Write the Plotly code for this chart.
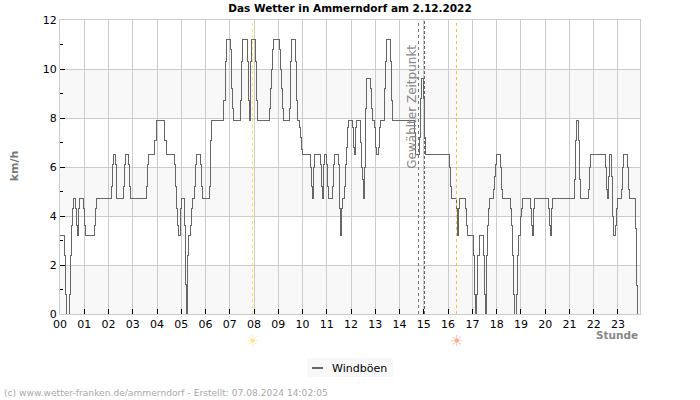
import plotly.graph_objects as go

TITLE = "Das Wetter in Ammerndorf am 2.12.2022"
FOOTER = "(c) www.wetter-franken.de/ammerndorf - Erstellt: 07.08.2024 14:02:05"
HOUR_LABELS = ["%02d" % h for h in range(24)]
HOUR_TICKS = list(range(24))

# step changes (hour reading, gust km/h)
read_hours = [
    0, .17, .21, .26, .38, .43, .48, .53, .57, .66, .70, .74, .77, .78, .82, .99,
    1.03, 1.07, 1.41, 1.46, 1.50, 2.12, 2.16, 2.20, 2.28, 2.32, 2.35, 2.61, 2.66,
    2.70, 2.85, 2.89, 2.93, 3.59, 3.63, 3.68, 3.92, 3.97, 4.01, 4.34, 4.42, 4.75,
    4.79, 4.83, 4.88, 4.92, 5.00, 5.04, 5.17, 5.21, 5.25, 5.27, 5.29, 5.33, 5.41,
    5.46, 5.50, 5.58, 5.62, 5.66, 5.83, 5.87, 5.91, 6.20, 6.24, 6.28, 6.78, 6.83,
    6.88, 7.04, 7.08, 7.14, 7.18, 7.455, 7.50, 7.54, 7.77, 7.81, 7.855, 7.90, 7.94,
    8.10, 8.145, 8.19, 8.68, 8.72, 8.77, 8.81, 8.85, 9.10, 9.14, 9.18, 9.22, 9.26,
    9.51, 9.55, 9.59, 9.76, 9.80, 9.84, 9.92, 9.97, 10.01, 10.05, 10.38, 10.42,
    10.46, 10.49, 10.55, 10.79, 10.84, 10.88, 10.92, 10.96, 11.04, 11.08, 11.12,
    11.29, 11.33, 11.37, 11.54, 11.58, 11.62, 11.66, 11.70, 11.79, 11.83, 11.87,
    11.91, 11.95, 12.12, 12.16, 12.20, 12.24, 12.28, 12.45, 12.49, 12.53, 12.57,
    12.61, 12.66, 12.70, 12.86, 12.90, 12.95, 13.03, 13.07, 13.11, 13.19, 13.24,
    13.28, 13.44, 13.48, 13.52, 13.69, 13.73, 13.77, 14.68, 14.72, 14.89, 14.93,
    14.97, 15.06, 15.10, 15.14, 16.13, 16.17, 16.21, 16.39, 16.43, 16.48, 16.52,
    16.78, 16.83, 16.88, 17.11, 17.17, 17.21, 17.25, 17.29, 17.37, 17.54, 17.58,
    17.62, 17.64, 17.69, 17.73, 17.79, 17.95, 17.99, 18.03, 18.08, 18.24, 18.28,
    18.33, 18.66, 18.70, 18.74, 18.78, 18.82, 18.90, 18.94, 18.99, 19.07, 19.11,
    19.15, 19.48, 19.52, 19.57, 19.59, 19.65, 20.23, 20.27, 20.31, 20.35, 20.39,
    21.30, 21.35, 21.39, 21.47, 21.51, 21.55, 21.88, 21.92, 21.97, 22.59, 22.63,
    22.67, 22.71, 22.75, 22.84, 22.88, 22.92, 23.00, 23.04, 23.08, 23.25, 23.29,
    23.33, 23.50, 23.54, 23.58, 23.83, 23.87, 23.91, 23.98,
]
gusts = [
    3.2, 2.4, .8, 0, .8, 2.4, 3.6, 4.3, 4.7, 4.3, 3.6, 3.2, 3.6, 4.3, 4.7, 4.3,
    3.6, 3.2, 3.6, 4.3, 4.7, 5.2, 6.1, 6.5, 6.1, 5.2, 4.7, 5.2, 6.1,
    6.5, 6.1, 5.2, 4.7, 5.2, 6.1, 6.5, 7.1, 7.1, 7.9, 7.1, 6.5, 6.1,
    5.2, 4.3, 3.6, 3.2, 4.3, 4.7, 3.6, 1.2, 0, .8, 2.4, 3.2, 3.6,
    4.3, 4.7, 5.2, 6.1, 6.5, 6.1, 5.2, 4.7, 5.2, 7.1, 7.9, 8.7, 10.3,
    11.2, 10.8, 9.2, 8.4, 7.9, 8.7, 10.3, 11.2, 10.3, 8.7, 7.9, 10.3, 11.2,
    10.3, 8.7, 7.9, 8.4, 9.2, 10.0, 10.8, 11.2, 10.8, 10.0, 9.2, 8.4, 7.9,
    8.4, 10.3, 11.2, 10.3, 8.7, 7.9, 7.6, 7.2, 6.7, 6.5, 6.0, 5.2,
    4.7, 6.0, 6.5, 6.1, 5.2, 4.7, 6.1, 6.5, 6.1, 5.2, 4.7,
    5.2, 6.1, 6.5, 6.1, 4.3, 3.2, 4.3, 4.7, 5.2, 6.1, 6.8,
    7.6, 7.9, 7.6, 6.8, 6.5, 7.6, 7.9, 7.0, 6.0, 5.5, 4.7,
    6.0, 8.4, 9.6, 9.2, 8.4, 7.9, 7.6, 6.8, 6.5, 6.8, 7.6,
    7.9, 9.2, 10.3, 11.2, 10.3, 8.7, 7.9, 7.4, 6.5, 7.2, 8.8,
    9.6, 8.8, 7.2, 6.5, 6.0, 5.2, 4.7, 4.3, 3.2, 4.3, 4.7,
    4.3, 3.6, 3.2, 2.4, .8, 0, .8, 2.4, 3.2, 2.4, .8,
    0, 2.4, 3.6, 4.3, 4.7, 5.1, 5.6, 6.1, 6.5, 6.0, 5.1,
    4.7, 4.3, 3.6, 2.4, .8, 0, .8, 2.4, 3.2, 4.0, 4.3,
    4.7, 4.3, 3.6, 3.2, 4.3, 4.7, 4.3, 3.6, 3.2, 4.3, 4.7,
    5.5, 7.1, 7.9, 7.1, 5.5, 4.7, 5.1, 6.0, 6.5, 6.0, 5.1,
    4.7, 5.6, 6.5, 5.6, 4.0, 3.2, 3.6, 4.3, 4.7, 5.1, 6.0,
    6.5, 6.0, 5.1, 4.7, 3.5, 1.15, 0, 0,
]
assert len(read_hours) == len(gusts), (len(read_hours), len(gusts))
# hour readings were taken at 24.17 px per hour; the ticks sit 24.26 px apart
gust_hours = [h * 24.17 / 24.26 for h in read_hours]

SUNRISE = 7.93
SUNSET = 16.36
SELECTED_A = 14.78
SELECTED_B = 15.02
X_END = 23.91
BANDS = [(0, 2), (4, 6), (8, 10)]
GREY = "#cccccc"
FONT = "DejaVu Sans"

fig = go.Figure()
fig.add_trace(go.Scatter(
    x=gust_hours, y=gusts, mode="lines", name="Windböen",
    line=dict(color="#666666", width=1, shape="hv"),
))

for lo, hi in BANDS:
    fig.add_shape(type="rect", xref="x", yref="y", x0=0, x1=X_END, y0=lo, y1=hi,
                  fillcolor="#f8f8f8", line_width=0, layer="below")

for hour, color, dash in [(SUNRISE, "#ffe84d", "dot"), (SUNSET, "#ffbb44", "dot"),
                          (SELECTED_A, "#777777", "dot"), (SELECTED_B, "#666666", "3px,2px")]:
    fig.add_shape(type="line", xref="x", yref="y", x0=hour, x1=hour, y0=0, y1=12,
                  line=dict(color=color, width=1, dash=dash))

sun_notes = [
    dict(text="☀", xref="x", yref="paper", x=hour, y=-0.092, showarrow=False,
         xanchor="center", yanchor="middle", font=dict(family=FONT, size=15, color=color))
    for hour, color in [(SUNRISE, "#ffe79a"), (SUNSET, "#ffa890")]
]

fig.update_layout(
    width=700, height=400, autosize=False,
    margin=dict(l=60, r=60, t=20, b=86),
    paper_bgcolor="white", plot_bgcolor="white",
    font=dict(family=FONT, size=11, color="#000000"),
    title=dict(text="<b>" + TITLE + "</b>", x=0.5, xanchor="center", y=0.978, yanchor="middle",
               font=dict(family=FONT, size=10.5, color="#000000")),
    showlegend=True,
    legend=dict(x=0.426, y=0.105, xref="paper", yref="container", xanchor="left", yanchor="top",
                bgcolor="#f8f8f8", borderwidth=0, itemwidth=30,
                font=dict(family=FONT, size=11, color="#000000")),
    xaxis=dict(range=[0, X_END], tickvals=HOUR_TICKS, ticktext=HOUR_LABELS, tickangle=0,
               ticks="inside", ticklen=5, tickcolor="#000000", tickwidth=1,
               showgrid=True, gridcolor=GREY, gridwidth=1, zeroline=False,
               showline=True, linecolor=GREY, linewidth=1, mirror=True,
               tickfont=dict(family=FONT, size=11, color="#000000")),
    yaxis=dict(range=[0, 12], tick0=0, dtick=2,
               ticks="inside", ticklen=5, tickcolor="#000000", tickwidth=1,
               minor=dict(dtick=1, tick0=0, ticks="inside", ticklen=3, tickcolor="#000000", tickwidth=1, showgrid=False),
               showgrid=True, gridcolor=GREY, gridwidth=1, zeroline=False,
               showline=True, linecolor=GREY, linewidth=1, mirror=True,
               tickfont=dict(family=FONT, size=11, color="#000000")),
    annotations=[
        dict(text="<b>km/h</b>", xref="paper", yref="paper", x=-0.078, y=0.505, showarrow=False,
             textangle=-90, xanchor="center", yanchor="middle",
             font=dict(family=FONT, size=11, color="#777777")),
        dict(text="<b>Stunde</b>", xref="paper", yref="paper", x=1.0, y=-0.07, showarrow=False,
             xanchor="right", yanchor="middle",
             font=dict(family=FONT, size=10.5, color="#888888")),
        dict(text="Gewählter Zeitpunkt", xref="x", yref="y", x=14.52, y=8.47, showarrow=False,
             textangle=-90, xanchor="center", yanchor="middle",
             font=dict(family=FONT, size=12, color="#888888")),
        dict(text=FOOTER, xref="paper", yref="paper", x=-0.1, y=-0.269, xanchor="left", yanchor="middle",
             showarrow=False, font=dict(family=FONT, size=9.15, color="#aaaaaa")),
    ] + sun_notes,
)

POST = """
document.body.style.margin = '0';
var st = document.createElement('style');
st.textContent = '.js-line, .shapelayer path {shape-rendering: crispEdges;}';
document.head.appendChild(st);
var gd = document.querySelector('.plotly-graph-div');
gd.querySelectorAll('.legendlines path').forEach(function (p) {
  p.setAttribute('d', 'M5,0h11'); p.style.strokeWidth = '2px';
});
gd.querySelectorAll('.legendtext').forEach(function (t) { t.setAttribute('x', '25'); });
gd.querySelectorAll('.legend .bg').forEach(function (r) {
  r.setAttribute('width', '86'); r.setAttribute('height', '19');
});
gd.querySelectorAll('.legend .traces').forEach(function (t) {
  t.setAttribute('transform', 'translate(0,9.5)');
});
"""
fig.write_html("out.html", post_script=POST, config={"displayModeBar": False})
